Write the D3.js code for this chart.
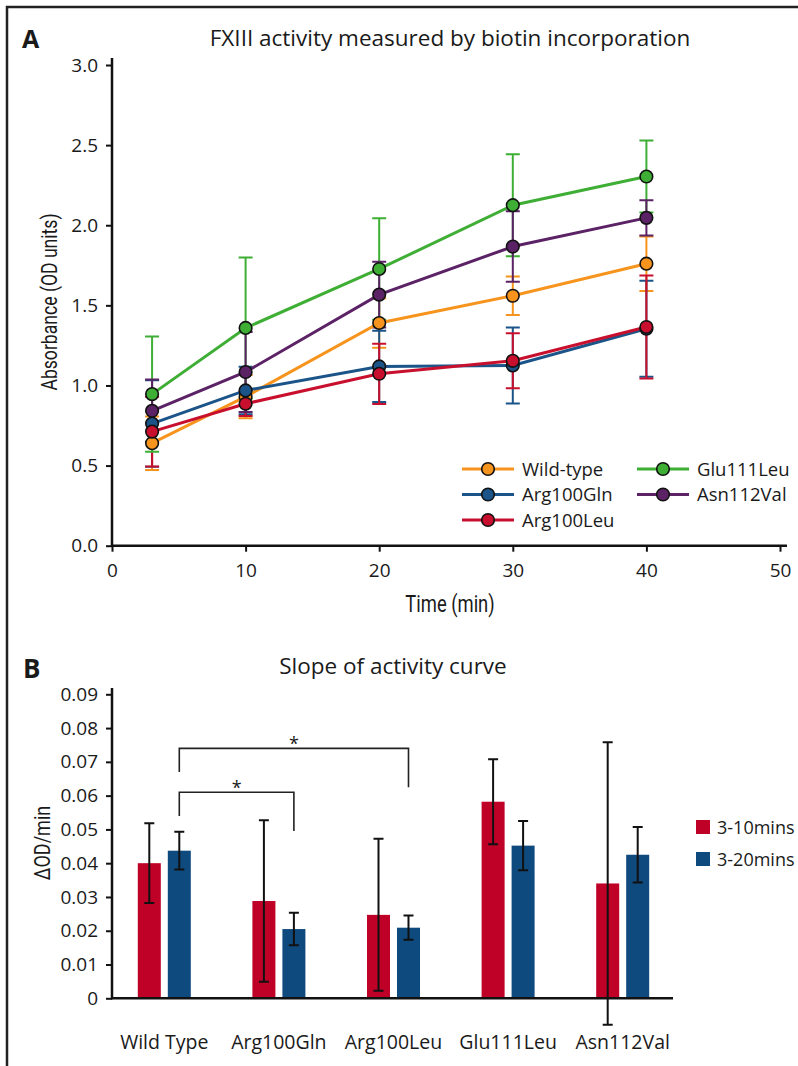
<!DOCTYPE html>
<html>
<head>
<meta charset="utf-8">
<script src="https://cdn.jsdelivr.net/npm/d3@7"></script>
<style>
  body { margin: 0; background: #fff; }
  text { font-family: "Open Sans", "Noto Sans", sans-serif; fill: #1a1a1a; }
  .cond { font-family: Roboto, "Open Sans", sans-serif; }
</style>
</head>
<body>
<script>
// panel A data
let times = [3, 10, 20, 30, 40];
let seriesNames = ["Wild-type", "Arg100Gln", "Arg100Leu", "Glu111Leu", "Asn112Val"];
let seriesColors = ["#f7941d", "#1b5488", "#c8102e", "#3fae35", "#5c2266"];
let wildType = [0.64, 0.93, 1.39, 1.56, 1.76];
let wildTypeSd = [0.167, 0.135, 0.154, 0.12, 0.17];
let arg100Gln = [0.762, 0.969, 1.119, 1.125, 1.354];
let arg100GlnSd = [0.27, 0.148, 0.222, 0.237, 0.30];
let arg100Leu = [0.712, 0.886, 1.073, 1.154, 1.365];
let arg100LeuSd = [0.218, 0.077, 0.188, 0.172, 0.322];
let glu111Leu = [0.946, 1.359, 1.727, 2.125, 2.304];
let glu111LeuSd = [0.36, 0.44, 0.317, 0.318, 0.225];
let asn112Val = [0.842, 1.084, 1.567, 1.867, 2.046];
let asn112ValSd = [0.195, 0.25, 0.205, 0.22, 0.11];
let yTicksA = [0, 0.5, 1, 1.5, 2, 2.5, 3];
let xTicksA = [0, 10, 20, 30, 40, 50];

// panel B data
let groups = ["Wild Type", "Arg100Gln", "Arg100Leu", "Glu111Leu", "Asn112Val"];
let periods = ["3-10mins", "3-20mins"];
let periodColors = ["#bf0027", "#0f4a7e"];
let slope310 = [0.0400, 0.0288, 0.0247, 0.0582, 0.0340];
let slope310Sd = [0.0118, 0.0239, 0.0225, 0.0126, 0.0418];
let slope320 = [0.0437, 0.0205, 0.0209, 0.0452, 0.0425];
let slope320Sd = [0.0056, 0.0048, 0.0036, 0.0073, 0.0082];
let yTicksB = [0, 0.01, 0.02, 0.03, 0.04, 0.05, 0.06, 0.07, 0.08, 0.09];
// significance brackets: from group, to group, bar level, left leg end, right leg end
let brackets = [
  { from: "Wild Type", to: "Arg100Gln", level: 0.061, left: 0.054, right: 0.0495 },
  { from: "Wild Type", to: "Arg100Leu", level: 0.074, left: 0.067, right: 0.0625 }
];

let width = 798, height = 1066;

let svg = d3.select("body").append("svg")
  .attr("width", width)
  .attr("height", height);

// frame
svg.append("path")
  .attr("d", "M7,1066 V7 H798")
  .attr("fill", "none")
  .attr("stroke", "#222")
  .attr("stroke-width", 2.5);

// ---------- panel A ----------
let x = d3.scaleLinear().domain([0, 50]).range([112, 780]);
let y = d3.scaleLinear().domain([0, 3]).range([545.7, 65]);

svg.append("text").attr("x", 22).attr("y", 48)
  .style("font-weight", "bold").style("font-size", "25px").text("A");

svg.append("text").attr("x", 450).attr("y", 46)
  .attr("text-anchor", "middle").style("font-size", "22.5px")
  .text("FXIII activity measured by biotin incorporation");

let yAxisA = svg.append("g")
  .attr("transform", "translate(112,0)")
  .call(d3.axisLeft(y).tickValues(yTicksA).tickFormat(d3.format(".1f")).tickSize(6).tickPadding(8));
let xAxisA = svg.append("g")
  .attr("transform", "translate(0," + y(0) + ")")
  .call(d3.axisBottom(x).tickValues(xTicksA).tickSize(6).tickPadding(12));

[yAxisA, xAxisA].forEach((g) => {
  g.select(".domain").remove();
  g.selectAll(".tick line").attr("stroke", "#111").attr("stroke-width", 2);
  g.selectAll(".tick text").style("font-size", "19px").attr("fill", "#1a1a1a");
});

svg.append("line").attr("x1", 112).attr("x2", 112).attr("y1", y(0) + 1).attr("y2", 58)
  .attr("stroke", "#111").attr("stroke-width", 2.5);
svg.append("line").attr("x1", 111).attr("x2", 787).attr("y1", y(0)).attr("y2", y(0))
  .attr("stroke", "#111").attr("stroke-width", 2.5);

svg.append("text").attr("class", "cond")
  .attr("transform", "translate(57,302) rotate(-90) scale(0.8,1)")
  .attr("text-anchor", "middle").style("font-size", "22px")
  .text("Absorbance (OD units)");
svg.append("text").attr("class", "cond")
  .attr("transform", "translate(450,612) scale(0.8,1)")
  .attr("text-anchor", "middle").style("font-size", "23px")
  .text("Time (min)");

let seriesA = [
  { name: seriesNames[0], values: wildType, sd: wildTypeSd, color: seriesColors[0] },
  { name: seriesNames[1], values: arg100Gln, sd: arg100GlnSd, color: seriesColors[1] },
  { name: seriesNames[2], values: arg100Leu, sd: arg100LeuSd, color: seriesColors[2] },
  { name: seriesNames[3], values: glu111Leu, sd: glu111LeuSd, color: seriesColors[3] },
  { name: seriesNames[4], values: asn112Val, sd: asn112ValSd, color: seriesColors[4] }
];

let errG = svg.append("g");
seriesA.forEach((s) => {
  times.forEach((t, i) => {
    let cx = x(t), hi = y(s.values[i] + s.sd[i]), lo = y(s.values[i] - s.sd[i]);
    errG.append("path")
      .attr("d", `M${cx},${hi}V${lo}M${cx - 7},${hi}H${cx + 7}M${cx - 7},${lo}H${cx + 7}`)
      .attr("stroke", s.color).attr("stroke-width", 2).attr("fill", "none");
  });
});

let line = d3.line().x((d, i) => x(times[i])).y((d) => y(d));
seriesA.forEach((s) => {
  svg.append("path").datum(s.values)
    .attr("d", line).attr("fill", "none")
    .attr("stroke", s.color).attr("stroke-width", 3);
});
seriesA.forEach((s) => {
  svg.append("g").selectAll("circle").data(s.values).enter()
    .append("circle")
    .attr("cx", (d, i) => x(times[i])).attr("cy", (d) => y(d))
    .attr("r", 6.3).attr("fill", s.color)
    .attr("stroke", "#111").attr("stroke-width", 1.6);
});

// legend A
let legA = svg.append("g");
seriesA.forEach((s, i) => {
  let col = i < 3 ? 0 : 1, row = i < 3 ? i : i - 3;
  let lx = 462 + col * 175, ly = 469 + row * 25.5;
  legA.append("line").attr("x1", lx).attr("x2", lx + 52).attr("y1", ly).attr("y2", ly)
    .attr("stroke", s.color).attr("stroke-width", 3);
  legA.append("circle").attr("cx", lx + 26).attr("cy", ly).attr("r", 6.3)
    .attr("fill", s.color).attr("stroke", "#111").attr("stroke-width", 1.6);
  legA.append("text").attr("x", lx + 60).attr("y", ly + 6.5)
    .style("font-size", "18.5px").text(s.name);
});

// ---------- panel B ----------
let xB = d3.scaleBand().domain(groups).range([107, 680]);
let sub = d3.scaleBand().domain(periods).range([-26.5, 26.5]).paddingInner(0.233);
let yB = d3.scaleLinear().domain([0, 0.09]).range([998.3, 694.3]);

svg.append("text").attr("x", 23).attr("y", 678)
  .style("font-weight", "bold").style("font-size", "26px").text("B");

svg.append("text").attr("x", 393).attr("y", 674)
  .attr("text-anchor", "middle").style("font-size", "22.5px")
  .text("Slope of activity curve");

let yAxisB = svg.append("g")
  .attr("transform", "translate(112,0)")
  .call(d3.axisLeft(yB).tickValues(yTicksB).tickFormat((d) => d === 0 ? "0" : d3.format(".2f")(d)).tickSize(6).tickPadding(8));
yAxisB.select(".domain").remove();
yAxisB.selectAll(".tick line").attr("stroke", "#111").attr("stroke-width", 2);
yAxisB.selectAll(".tick text").style("font-size", "19px").attr("fill", "#1a1a1a");

svg.append("text").attr("class", "cond")
  .attr("transform", "translate(50,843) rotate(-90) scale(0.82,1)")
  .attr("text-anchor", "middle").style("font-size", "22px")
  .text("ΔOD/min");

let seriesB = [
  { name: periods[0], values: slope310, sd: slope310Sd, color: periodColors[0] },
  { name: periods[1], values: slope320, sd: slope320Sd, color: periodColors[1] }
];

seriesB.forEach((s) => {
  svg.append("g").selectAll("rect").data(s.values).enter()
    .append("rect")
    .attr("x", (d, i) => xB(groups[i]) + xB.bandwidth() / 2 + sub(s.name))
    .attr("width", sub.bandwidth())
    .attr("y", (d) => yB(d))
    .attr("height", (d) => yB(0) - yB(d))
    .attr("fill", s.color);
});

svg.append("line").attr("x1", 111).attr("x2", 673).attr("y1", yB(0)).attr("y2", yB(0))
  .attr("stroke", "#111").attr("stroke-width", 2.5);
svg.append("line").attr("x1", 112).attr("x2", 112).attr("y1", yB(0) + 1).attr("y2", 688)
  .attr("stroke", "#111").attr("stroke-width", 2.5);

seriesB.forEach((s) => {
  s.values.forEach((v, i) => {
    let cx = xB(groups[i]) + xB.bandwidth() / 2 + sub(s.name) + sub.bandwidth() / 2;
    let hi = yB(v + s.sd[i]), lo = yB(v - s.sd[i]);
    svg.append("path")
      .attr("d", `M${cx},${hi}V${lo}M${cx - 5},${hi}H${cx + 5}M${cx - 5},${lo}H${cx + 5}`)
      .attr("stroke", "#111").attr("stroke-width", 2).attr("fill", "none");
  });
});

let blueCenter = (g) => xB(g) + xB.bandwidth() / 2 + sub(periods[1]) + sub.bandwidth() / 2;
brackets.forEach((b) => {
  let x1 = blueCenter(b.from), x2 = blueCenter(b.to);
  svg.append("path")
    .attr("d", `M${x1},${yB(b.left)}V${yB(b.level)}H${x2}V${yB(b.right)}`)
    .attr("fill", "none").attr("stroke", "#222").attr("stroke-width", 1.6);
  svg.append("text").attr("x", (x1 + x2) / 2).attr("y", yB(b.level) + 2)
    .attr("text-anchor", "middle").style("font-size", "18px").text("*");
});

svg.append("g").selectAll("text").data(groups).enter()
  .append("text")
  .attr("x", (d) => xB(d) + xB.bandwidth() / 2)
  .attr("y", 1049)
  .attr("text-anchor", "middle").style("font-size", "19.5px")
  .text((d) => d);

seriesB.forEach((s, i) => {
  svg.append("rect").attr("x", 696).attr("y", 820 + i * 32).attr("width", 14).attr("height", 14)
    .attr("fill", s.color);
  svg.append("text").attr("x", 717).attr("y", 834 + i * 32)
    .style("font-size", "18px").text(s.name);
});
</script>
</body>
</html>
